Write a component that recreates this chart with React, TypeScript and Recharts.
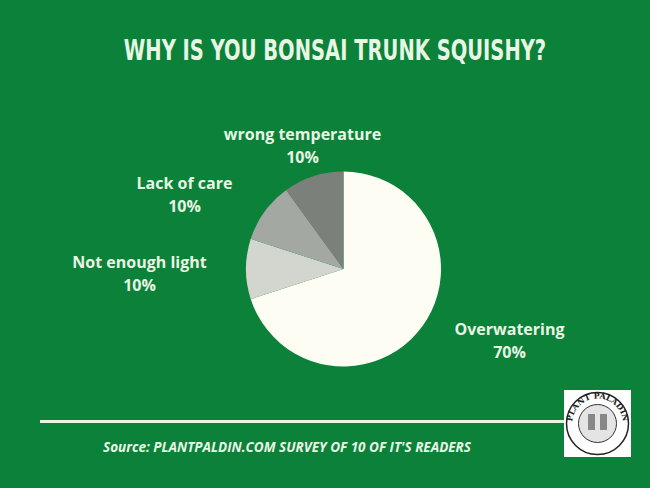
import { PieChart, Pie, Cell } from "recharts";

const causes = ["Overwatering", "Not enough light", "Lack of care", "wrong temperature"];
const shares = [70, 10, 10, 10];
const sliceColors = ["#FDFDF4", "#D3D6CF", "#A4A8A3", "#7B807B"];

const BG = "#0B8139";
const INK = "#E8F6E4";

// label anchor offsets from the pie centre, per slice
const labelShift: Record<string, [number, number]> = {
  Overwatering: [166, 66],
  "Not enough light": [-204, -1],
  "Lack of care": [-159, -80],
  "wrong temperature": [-41, -129],
};

const data = causes.map((name, i) => ({ name, value: shares[i] }));

function renderLabel(props: any) {
  const { cx, cy, name, value } = props;
  const [dx, dy] = labelShift[name] || [0, 0];
  const x = cx + dx;
  const y = cy + dy;
  return (
    <g>
      <text x={x} y={y} textAnchor="middle" fill={INK} fontFamily="'Open Sans', sans-serif" fontWeight={700} fontSize={16}>
        {name}
      </text>
      <text x={x} y={y + 23} textAnchor="middle" fill={INK} fontFamily="'Open Sans', sans-serif" fontWeight={700} fontSize={16}>
        {value}%
      </text>
    </g>
  );
}

function Logo() {
  return (
    <g>
      <rect x={564} y={390} width={67} height={67} fill="#ffffff" />
      <circle cx={597.5} cy={423.5} r={31} fill="#fff" stroke="#222" strokeWidth={1.5} />
      <circle cx={597.5} cy={423.5} r={19} fill="#e4e4e4" stroke="#333" strokeWidth={1} />
      <defs>
        <path id="logoArc" d="M 575 436 A 25.5 25.5 0 1 1 620 436" />
      </defs>
      <text fontFamily="'DejaVu Serif', serif" fontWeight={700} fontSize={8} fill="#222">
        <textPath href="#logoArc" startOffset="50%" textAnchor="middle">
          PLANT PALADIN
        </textPath>
      </text>
      <rect x={588} y={414} width={7} height={16} fill="#888" />
      <rect x={600} y={414} width={7} height={16} fill="#888" />
    </g>
  );
}

export default function App() {
  return (
    <div style={{ position: "absolute", left: 0, top: 0, width: 650, height: 488, background: BG }}>
      <PieChart width={650} height={488} margin={{ top: 0, right: 0, bottom: 0, left: 0 }}>
        <Pie
          data={data}
          dataKey="value"
          nameKey="name"
          cx={343.5}
          cy={269}
          outerRadius={97.5}
          startAngle={90}
          endAngle={-270}
          stroke="none"
          labelLine={false}
          label={renderLabel}
          isAnimationActive={false}
        >
          {data.map((_, i) => (
            <Cell key={i} fill={sliceColors[i]} />
          ))}
        </Pie>
      </PieChart>
      <svg width={650} height={488} style={{ position: "absolute", left: 0, top: 0, pointerEvents: "none" }}>
        <text
          transform="translate(335,60) scale(0.775,1)"
          x={0}
          y={0}
          textAnchor="middle"
          fill={INK}
          fontFamily="'DejaVu Sans Condensed', sans-serif"
          fontWeight={700}
          fontSize={28}
        >
          WHY IS YOU BONSAI TRUNK SQUISHY?
        </text>
        <rect x={40} y={420} width={524} height={3} fill={INK} />
        <text
          x={287}
          y={452}
          textAnchor="middle"
          fill={INK}
          fontFamily="'Open Sans', sans-serif"
          fontWeight={700}
          fontStyle="italic"
          fontSize={13.5}
        >
          Source: PLANTPALDIN.COM SURVEY OF 10 OF IT'S READERS
        </text>
        <Logo />
      </svg>
    </div>
  );
}
